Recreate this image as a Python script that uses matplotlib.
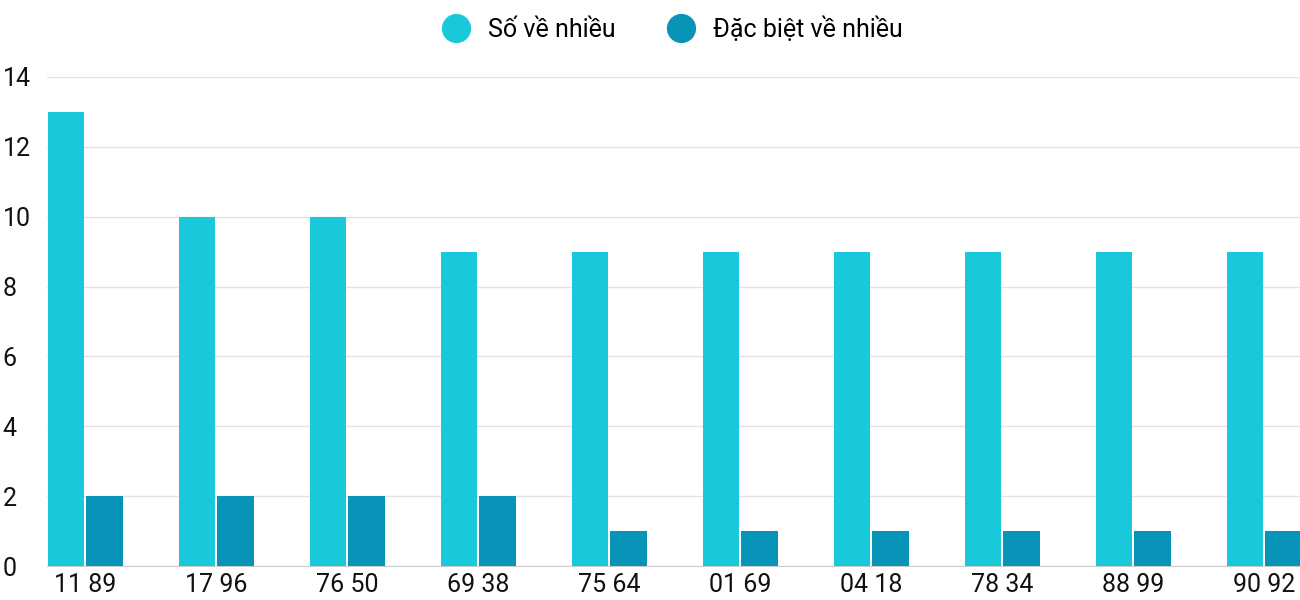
import matplotlib
matplotlib.use("Agg")
import matplotlib.pyplot as plt
import numpy as np
from matplotlib.lines import Line2D

categories = ["11 89", "17 96", "76 50", "69 38", "75 64", "01 69", "04 18", "78 34", "88 99", "90 92"]
so_ve_nhieu = [13, 10, 10, 9, 9, 9, 9, 9, 9, 9]
dac_biet = [2, 2, 2, 2, 1, 1, 1, 1, 1, 1]

c1, c2 = "#1AC8DB", "#0894B8"
plt.rcParams['font.family'] = ['Roboto', 'DejaVu Sans']

fig = plt.figure(figsize=(13, 6), dpi=100)
ax = fig.add_axes([47/1300, 34/600, 1253/1300, 489/600])
x = np.arange(len(categories))
w = 0.275
ax.bar(x - 0.149, so_ve_nhieu, w, color=c1, zorder=3)
ax.bar(x + 0.145, dac_biet, w, color=c2, zorder=3)
ax.set_xlim(-0.294, 9.271)
ax.set_ylim(0, 14)
ax.set_yticks(range(0, 15, 2))
ax.set_xticks(x)
ax.set_xticklabels(categories)
ax.tick_params(axis='both', length=0, labelsize=18, colors="#111111")
ax.tick_params(axis='x', pad=5)
for lbl in ax.get_yticklabels():
    lbl.set_horizontalalignment('left')
ax.yaxis.set_tick_params(pad=32)
ax.grid(axis='y', color="#e3e3e3", linewidth=1, zorder=0)
for s in ["top", "right", "left"]:
    ax.spines[s].set_visible(False)
ax.spines["bottom"].set_color("#cccccc")

handles = [Line2D([], [], marker='o', linestyle='', markersize=20, color=c1),
           Line2D([], [], marker='o', linestyle='', markersize=20, color=c2)]
fig.legend(handles, ["Số về nhiều", "Đặc biệt về nhiều"], loc='center', bbox_to_anchor=(0.513, 1-29/600),
           ncol=2, frameon=False, fontsize=18, handletextpad=0.3, columnspacing=1.6)
fig.savefig("out.png", dpi=100)
